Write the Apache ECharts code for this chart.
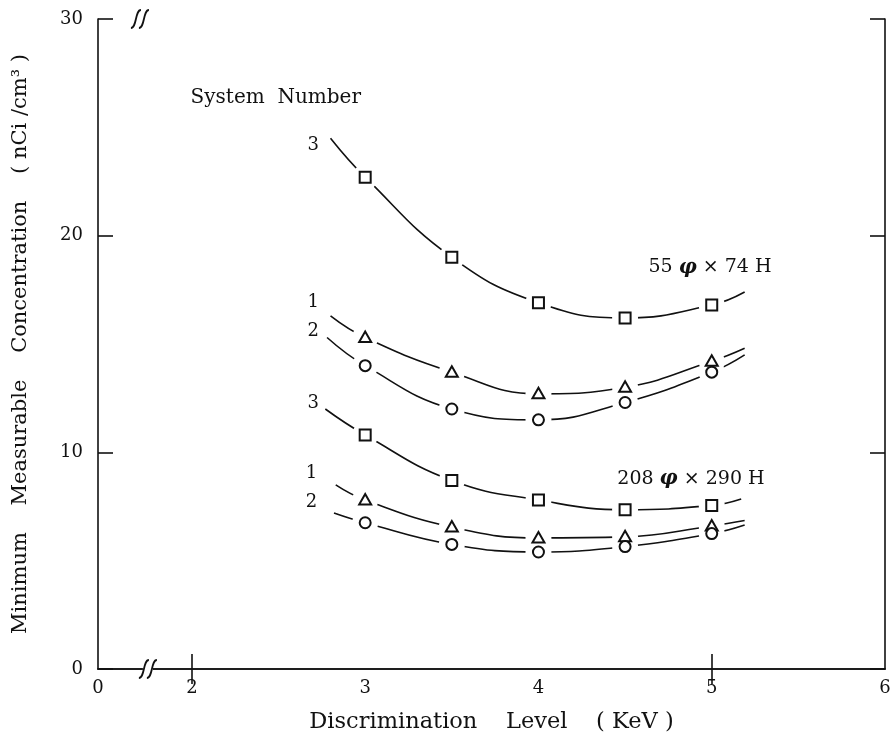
<!DOCTYPE html>
<html>
<head>
<meta charset="utf-8">
<script src="https://cdn.jsdelivr.net/npm/echarts@6/dist/echarts.min.js"></script>
<style>
  html, body { margin: 0; padding: 0; background: #fff; }
  #chart { width: 895px; height: 739px; }
</style>
</head>
<body>
<div id="chart"></div>
<script>
// Discrimination levels (KeV) at which each system was measured
const levels = [3, 3.5, 4, 4.5, 5];

// Detector 55φ × 74H, minimum measurable concentration (nCi/cm³)
const large3 = [22.7, 19.0, 16.9, 16.2, 16.8];
const large1 = [15.3, 13.7, 12.7, 13.0, 14.2];
const large2 = [14.0, 12.0, 11.5, 12.3, 13.7];

// Detector 208φ × 290H
const small3 = [10.8, 8.7, 7.8, 7.35, 7.55];
const small1 = [7.8, 6.55, 6.05, 6.1, 6.6];
const small2 = [6.75, 5.75, 5.4, 5.65, 6.25];

// Ends of the fitted curves drawn through each set of points [x, y]
const large3Ends = [[2.80, 24.5], [5.19, 17.4]];
const large1Ends = [[2.80, 16.3], [5.19, 14.8]];
const large2Ends = [[2.78, 15.3], [5.19, 14.5]];
const small3Ends = [[2.77, 12.0], [5.17, 7.85]];
const small1Ends = [[2.83, 8.5], [5.19, 6.85]];
const small2Ends = [[2.82, 7.2], [5.19, 6.65]];

// Axis ticks
const xTickLabels = [2, 3, 4, 5, 6];
const xTickMarks = [2, 5];
const yTickLabels = [0, 10, 20, 30];
const X_ORIGIN = 1.458;   // axis start, labelled 0 (axis is broken between 0 and 2)
const X_MAX = 6;
const BREAK_BOTTOM = 1.746;
const BREAK_TOP = 1.70;

const FONT = 'DejaVu Serif';
const INK = '#111';
const GAP_RADIUS = 13;   // white space left in a curve around each marker

function pts(values) {
  return values.map((v, i) => [levels[i], v]);
}
function curve(values, ends) {
  return [ends[0]].concat(pts(values), [ends[1]]);
}

const groups = [
  { name: 'large3', values: large3, ends: large3Ends, symbol: 'rect', size: 11, num: '3', numAt: [2.70, 24.19] },
  { name: 'large1', values: large1, ends: large1Ends, symbol: 'triangle', size: 12, num: '1', numAt: [2.70, 16.91] },
  { name: 'large2', values: large2, ends: large2Ends, symbol: 'circle', size: 11, num: '2', numAt: [2.70, 15.58] },
  { name: 'small3', values: small3, ends: small3Ends, symbol: 'rect', size: 11, num: '3', numAt: [2.70, 12.26] },
  { name: 'small1', values: small1, ends: small1Ends, symbol: 'triangle', size: 12, num: '1', numAt: [2.69, 9.03] },
  { name: 'small2', values: small2, ends: small2Ends, symbol: 'circle', size: 11, num: '2', numAt: [2.69, 7.70] }
];

const series = [];
// fitted curves
groups.forEach(g => {
  series.push({
    name: g.name + ' curve',
    type: 'line',
    data: curve(g.values, g.ends),
    smooth: 0.45,
    showSymbol: false,
    symbol: 'none',
    lineStyle: { color: INK, width: 1.6 },
    z: 2,
    silent: true
  });
});
// white discs that break the curves around each point
groups.forEach(g => {
  series.push({
    name: g.name + ' gap',
    type: 'custom',
    coordinateSystem: 'cartesian2d',
    data: pts(g.values),
    z: 4,
    silent: true,
    renderItem: (params, api) => {
      const p = api.coord([api.value(0), api.value(1)]);
      return { type: 'circle', shape: { cx: p[0], cy: p[1], r: GAP_RADIUS }, style: { fill: '#fff' } };
    }
  });
});
// hollow markers
groups.forEach(g => {
  series.push({
    name: g.name,
    type: 'custom',
    coordinateSystem: 'cartesian2d',
    data: pts(g.values),
    z: 5,
    silent: true,
    renderItem: (params, api) => {
      const p = api.coord([api.value(0), api.value(1)]);
      const h = g.size / 2;
      let el;
      if (g.symbol === 'rect') {
        el = { type: 'rect', shape: { x: p[0] - h, y: p[1] - h, width: g.size, height: g.size } };
      } else if (g.symbol === 'circle') {
        el = { type: 'circle', shape: { cx: p[0], cy: p[1], r: h } };
      } else {
        el = { type: 'polygon', shape: { points: [[p[0], p[1] - h], [p[0] + h, p[1] + h * 0.75], [p[0] - h, p[1] + h * 0.75]] } };
      }
      el.style = { fill: '#fff', stroke: INK, lineWidth: 2 };
      return el;
    }
  });
});

// text annotations in data coordinates
const notes = [
  { value: [2.484, 26.36], text: 'System  Number', size: 20 },
  { value: [4.99, 18.53], text: '55 {phi|φ} × 74 H', size: 19 },
  { value: [4.88, 8.76], text: '208 {phi|φ} × 290 H', size: 19 }
].concat(groups.map(g => ({ value: g.numAt, text: g.num, size: 18 })));

series.push({
  name: 'notes',
  type: 'scatter',
  symbolSize: 0,
  z: 6,
  silent: true,
  itemStyle: { opacity: 1 },
  emphasis: { disabled: true },
  data: notes.map(n => ({
    value: n.value,
    label: {
      show: true,
      position: 'inside',
      formatter: n.text,
      fontFamily: FONT,
      fontSize: n.size,
      color: INK,
      rich: {
        phi: { fontFamily: FONT, fontSize: 20, fontStyle: 'italic', fontWeight: 'bold', color: INK }
      }
    }
  }))
});

const axisLine = { show: true, lineStyle: { color: INK, width: 1.6 } };
const tickStyle = { color: INK, width: 1.6 };

const option = {
  backgroundColor: '#fff',
  animation: false,
  grid: { left: 98, right: 10, top: 19, bottom: 69, containLabel: false },
  xAxis: [
    {
      type: 'value',
      position: 'bottom',
      min: X_ORIGIN,
      max: X_MAX,
      axisLine: axisLine,
      axisTick: { show: true, inside: true, length: 15, lineStyle: tickStyle, customValues: xTickMarks },
      axisLabel: {
        show: true,
        customValues: [X_ORIGIN].concat(xTickLabels),
        formatter: v => (v < 2 ? '0' : String(Math.round(v))),
        fontFamily: FONT, fontSize: 18, color: INK, margin: 10,
        showMinLabel: true, showMaxLabel: true
      },
      splitLine: { show: false },
      name: 'Discrimination    Level    ( KeV )',
      nameLocation: 'middle',
      nameGap: 42,
      nameTextStyle: { fontFamily: FONT, fontSize: 22.5, color: INK }
    },
    {
      type: 'value',
      position: 'top',
      min: X_ORIGIN,
      max: X_MAX,
      axisLine: axisLine,
      axisTick: { show: true, inside: true, length: 15, lineStyle: tickStyle, customValues: xTickMarks },
      axisLabel: { show: false },
      splitLine: { show: false }
    }
  ],
  yAxis: [
    {
      type: 'value',
      position: 'left',
      min: 0,
      max: 30,
      interval: 10,
      axisLine: axisLine,
      axisTick: { show: true, inside: true, length: 15, lineStyle: tickStyle },
      axisLabel: {
        show: true,
        customValues: yTickLabels,
        fontFamily: FONT, fontSize: 18, color: INK, margin: 15
      },
      splitLine: { show: false },
      name: 'Minimum    Measurable    Concentration    ( nCi /cm³ )',
      nameLocation: 'middle',
      nameGap: 67,
      nameTextStyle: { fontFamily: FONT, fontSize: 21, color: INK }
    },
    {
      type: 'value',
      position: 'right',
      min: 0,
      max: 30,
      interval: 10,
      axisLine: axisLine,
      axisTick: { show: true, inside: true, length: 15, lineStyle: tickStyle },
      axisLabel: { show: false },
      splitLine: { show: false }
    }
  ],
  series: series
};

const chart = echarts.init(document.getElementById('chart'), null, { renderer: 'canvas' });
chart.setOption(option);

// axis-break marks on the top and bottom axis lines
function breakMark(cx, cy) {
  const s = (dx) => ({
    type: 'bezierCurve',
    shape: {
      x1: cx + dx - 5, y1: cy + 9,
      cpx1: cx + dx + 1, cpy1: cy + 9,
      cpx2: cx + dx - 1, cpy2: cy - 9,
      x2: cx + dx + 5, y2: cy - 9
    },
    style: { stroke: INK, lineWidth: 1.8, fill: null },
    z: 10
  });
  return [
    { type: 'rect', shape: { x: cx - 5, y: cy - 2, width: 10, height: 4 }, style: { fill: '#fff' }, z: 9 },
    s(-4), s(4)
  ];
}
const yBottom = chart.convertToPixel({ yAxisIndex: 0 }, 0);
const yTop = chart.convertToPixel({ yAxisIndex: 0 }, 30);
const xb = chart.convertToPixel({ xAxisIndex: 0 }, BREAK_BOTTOM);
const xt = chart.convertToPixel({ xAxisIndex: 1 }, BREAK_TOP);
chart.setOption({ graphic: breakMark(xb, yBottom).concat(breakMark(xt, yTop)) });
</script>
</body>
</html>
